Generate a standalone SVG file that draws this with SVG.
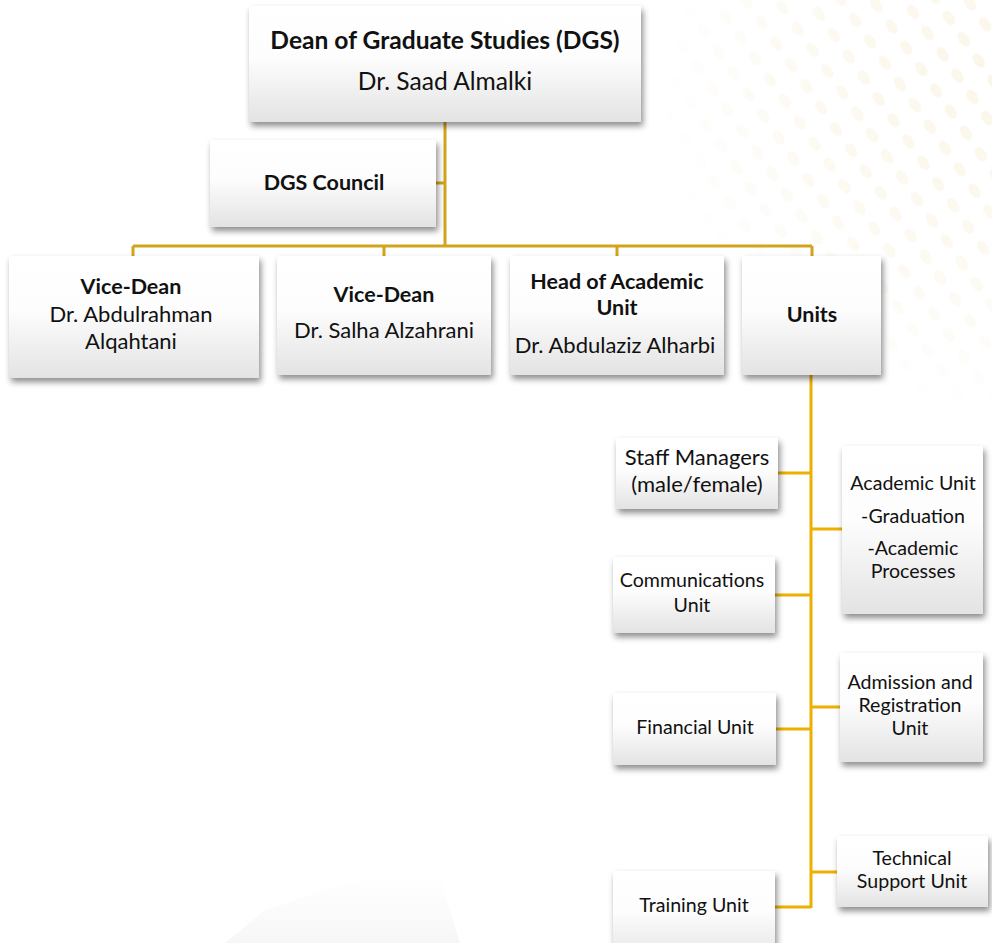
<svg xmlns="http://www.w3.org/2000/svg" width="992" height="943" viewBox="0 0 992 943">
<defs>
  <linearGradient id="boxg" x1="0" y1="0" x2="0" y2="1">
    <stop offset="0" stop-color="#ffffff"/>
    <stop offset="0.45" stop-color="#fdfdfd"/>
    <stop offset="1" stop-color="#e3e3e3"/>
  </linearGradient>
  <filter id="sh" x="-10%" y="-10%" width="125%" height="140%">
    <feDropShadow dx="2" dy="4" stdDeviation="3" flood-color="#000" flood-opacity="0.45"/>
  </filter>
  <pattern id="dots" width="26" height="26" patternUnits="userSpaceOnUse" patternTransform="rotate(-35)">
    <ellipse cx="13" cy="13" rx="5" ry="8" fill="#f3e3bb"/>
  </pattern>
  <radialGradient id="fade" cx="992" cy="80" r="340" gradientUnits="userSpaceOnUse">
    <stop offset="0" stop-color="#fff" stop-opacity="0.32"/>
    <stop offset="0.6" stop-color="#fff" stop-opacity="0.18"/>
    <stop offset="1" stop-color="#fff" stop-opacity="0"/>
  </radialGradient>
  <mask id="dm">
    <rect x="600" y="0" width="392" height="460" fill="url(#fade)"/>
  </mask>
  <linearGradient id="bot" x1="0" y1="0" x2="0" y2="1">
    <stop offset="0" stop-color="#f0f0f0" stop-opacity="0"/>
    <stop offset="1" stop-color="#ececec" stop-opacity="0.45"/>
  </linearGradient>
  <style>
    .box { fill: url(#boxg); filter: url(#sh); }
    text { font-family: Lato, "Liberation Sans", sans-serif; fill: #111; text-anchor: middle; }
    .b { font-weight: bold; }
    .t1 { font-size: 24.6px; }
    .t2 { font-size: 22px; }
    .t2.b { font-size: 21.5px; }
    .t3 { font-size: 22px; }
    .t4 { font-size: 19.6px; }
    .c1 { stroke: #d2a31c; stroke-width: 3; fill: none; }
    .c2 { stroke: #edb000; stroke-width: 3; fill: none; }
  </style>
</defs>
<rect width="992" height="943" fill="#ffffff"/>
<rect x="600" y="0" width="392" height="460" fill="url(#dots)" mask="url(#dm)"/>
<path d="M225 943 L265 910 L330 888 L400 872 L440 878 L460 943 Z" fill="url(#bot)"/>

<g id="connectors">
  <path class="c1" d="M445 122 V246 M436 183 H445 M133 246 H812 M133 246 V256 M384 246 V256 M617 246 V256 M812 246 V256"/>
  <path class="c2" d="M811 375 V908 M778 473 H811 M775 595 H811 M776 729 H811 M775 907 H811 M811 529 H842 M811 707 H840 M811 872 H837"/>
</g>

<g id="dean">
  <rect class="box" x="249" y="6" width="392" height="116"/>
  <text class="b t1" x="445" y="49">Dean of Graduate Studies (DGS)</text>
  <text class="t1" x="445" y="90">Dr. Saad Almalki</text>
</g>
<g id="council">
  <rect class="box" x="210" y="140" width="226" height="87"/>
  <text class="b t2" x="324" y="190">DGS Council</text>
</g>
<g id="vicedean1">
  <rect class="box" x="9" y="256" width="250" height="122"/>
  <text class="b t2" x="131" y="294">Vice-Dean</text>
  <text class="t2" x="131" y="322">Dr. Abdulrahman</text>
  <text class="t2" x="131" y="349">Alqahtani</text>
</g>
<g id="vicedean2">
  <rect class="box" x="277" y="256" width="214" height="119"/>
  <text class="b t2" x="384" y="302">Vice-Dean</text>
  <text class="t2" x="384" y="338">Dr. Salha Alzahrani</text>
</g>
<g id="headacademic">
  <rect class="box" x="510" y="256" width="214" height="119"/>
  <text class="b t2" x="617" y="289">Head of Academic</text>
  <text class="b t2" x="617" y="315">Unit</text>
  <text class="t2" x="615" y="353">Dr. Abdulaziz Alharbi</text>
</g>
<g id="units">
  <rect class="box" x="742" y="256" width="139" height="119"/>
  <text class="b t2" x="812" y="322">Units</text>
</g>
<g id="staff">
  <rect class="box" x="616" y="438" width="162" height="71"/>
  <text class="t3" x="697" y="465">Staff Managers</text>
  <text class="t3" x="697" y="492">(male/female)</text>
</g>
<g id="academicunit">
  <rect class="box" x="842" y="446" width="141" height="168"/>
  <text class="t4" x="913" y="490">Academic Unit</text>
  <text class="t4" x="913" y="523">-Graduation</text>
  <text class="t4" x="913" y="555">-Academic</text>
  <text class="t4" x="913" y="578">Processes</text>
</g>
<g id="communications">
  <rect class="box" x="613" y="557" width="162" height="76"/>
  <text class="t4" x="692" y="587">Communications</text>
  <text class="t4" x="692" y="612">Unit</text>
</g>
<g id="admission">
  <rect class="box" x="840" y="653" width="143" height="109"/>
  <text class="t4" x="910" y="689">Admission and</text>
  <text class="t4" x="910" y="712">Registration</text>
  <text class="t4" x="910" y="735">Unit</text>
</g>
<g id="financial">
  <rect class="box" x="613" y="693" width="163" height="72"/>
  <text class="t4" x="695" y="734">Financial Unit</text>
</g>
<g id="technical">
  <rect class="box" x="837" y="836" width="151" height="71"/>
  <text class="t4" x="912" y="865">Technical</text>
  <text class="t4" x="912" y="888">Support Unit</text>
</g>
<g id="training">
  <rect class="box" x="613" y="871" width="162" height="90"/>
  <text class="t4" x="694" y="912">Training Unit</text>
</g>
</svg>
